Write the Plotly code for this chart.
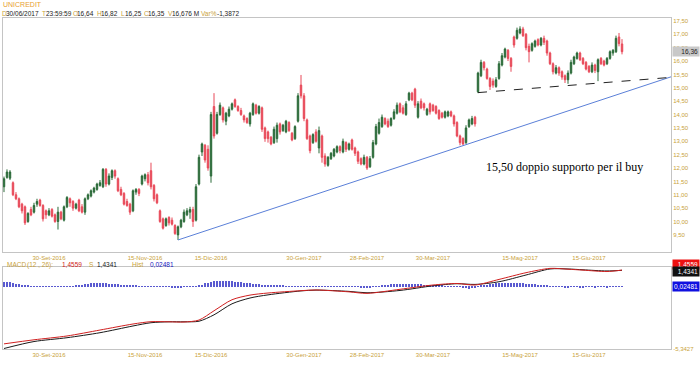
import plotly.graph_objects as go
import pandas as pd

# ---------------- data ----------------
HOLIDAYS = ['2016-12-26', '2017-04-14', '2017-04-17', '2017-05-01']
dates = [d.strftime('%Y-%m-%d') for d in pd.bdate_range('2016-09-09', '2017-06-30')
         if d.strftime('%Y-%m-%d') not in HOLIDAYS]

opens = [
    11.30, 11.65, 11.62, 11.45, 11.00, 10.85, 10.65, 10.55, 10.00, 10.45,
    10.35, 10.65, 10.80, 10.60, 10.40, 10.25, 10.45, 10.25, 10.00, 10.35,
    10.05, 10.55, 10.85, 10.75, 10.50, 10.80, 10.55, 10.35, 10.85, 10.95,
    11.10, 11.20, 11.35, 11.30, 11.95, 11.40, 11.65, 11.90, 11.60, 11.20,
    11.05, 10.75, 10.65, 10.40, 11.10, 11.20, 11.40, 11.60, 11.75, 11.90,
    11.35, 11.00, 10.40, 10.10, 9.85, 10.15, 10.05, 9.85, 9.50,
    9.80, 10.00, 10.25, 10.35, 10.45, 10.05, 11.40, 12.60, 12.85, 12.70,
    11.70, 14.30, 13.30, 14.00, 14.25, 13.75, 13.95, 14.20, 14.55, 14.30,
    14.15, 13.95, 13.85, 13.65, 14.00, 14.35, 14.05, 14.25, 13.50, 13.35,
    13.15, 12.95, 13.10, 13.65, 13.40, 13.35, 13.70, 13.30, 13.10, 13.75,
    15.10, 14.70, 13.80, 13.20, 12.95, 13.35, 12.75, 13.20, 12.45, 12.10,
    12.35, 12.45, 12.60, 12.80, 12.60, 12.95, 12.70, 13.05, 12.75, 12.60,
    12.35, 12.15, 12.40, 12.05, 12.40, 12.90, 13.30, 13.55, 13.85, 13.75,
    13.60, 13.85, 14.05, 14.40, 14.25, 14.00, 14.55, 14.80, 14.95, 13.90,
    14.50, 14.40, 14.00, 14.40, 14.35, 14.30, 14.15, 14.05, 13.90,
    13.95, 14.10, 13.95, 13.70, 13.20, 13.10, 12.95, 13.55, 13.65, 13.90,
    14.85, 15.45, 15.95, 15.70, 15.35, 15.25, 15.05, 15.35, 15.85, 16.15,
    16.40, 16.10, 16.90, 16.85, 17.05, 17.20, 17.00, 16.55, 16.40, 16.55,
    16.80, 16.60, 16.85, 16.75, 16.30, 15.90, 15.55, 15.75, 15.60, 15.45,
    15.30, 15.55, 15.90, 16.10, 16.30, 16.10, 15.95, 15.80, 15.60, 15.85,
    15.60, 16.10, 16.00, 15.90, 16.10, 16.30, 16.35, 16.90, 16.64,
]
highs = [
    11.68, 11.95, 11.92, 11.50, 11.10, 10.90, 10.70, 10.60, 10.35, 10.55,
    10.70, 10.85, 10.85, 10.65, 10.45, 10.50, 10.50, 10.30, 10.55, 10.40,
    10.60, 10.95, 10.90, 10.80, 10.70, 10.85, 10.65, 10.90, 11.05, 11.20,
    11.30, 11.45, 11.55, 12.00, 12.00, 11.80, 11.95, 11.95, 11.65, 11.30,
    11.10, 10.85, 10.70, 11.20, 11.25, 11.25, 11.75, 11.80, 11.85, 12.20,
    11.40, 11.05, 10.45, 10.15, 10.15, 10.20, 10.15, 9.90, 9.85,
    10.10, 10.45, 10.50, 10.55, 10.55, 11.40, 12.50, 12.95, 12.90, 12.85,
    14.10, 14.80, 14.10, 14.45, 14.30, 14.10, 14.30, 14.45, 14.60, 14.35,
    14.25, 14.00, 13.90, 14.10, 14.45, 14.40, 14.35, 14.30, 13.55, 13.40,
    13.20, 13.55, 13.70, 13.70, 13.65, 13.80, 13.75, 13.35, 13.60, 14.80,
    15.48, 14.80, 13.85, 13.25, 13.30, 13.45, 13.55, 13.25, 12.55, 12.45,
    12.60, 12.75, 12.85, 12.85, 13.10, 13.00, 12.95, 13.10, 12.80, 12.65,
    12.40, 12.50, 12.45, 12.45, 13.05, 13.65, 13.85, 14.00, 13.90, 13.85,
    13.90, 14.20, 14.45, 14.45, 14.35, 14.50, 14.85, 14.85, 15.00, 14.50,
    14.60, 14.45, 14.25, 14.45, 14.40, 14.35, 14.20, 14.10, 14.15,
    14.15, 14.15, 14.00, 13.75, 13.25, 13.15, 13.60, 13.85, 13.95, 13.95,
    15.60, 16.05, 16.00, 15.75, 15.40, 15.35, 15.40, 16.00, 16.30, 16.50,
    16.45, 16.15, 16.95, 17.25, 17.30, 17.28, 17.05, 16.65, 16.70, 16.80,
    16.85, 16.90, 16.95, 16.80, 16.35, 15.95, 15.85, 15.80, 15.65, 15.50,
    15.65, 16.05, 16.20, 16.35, 16.35, 16.15, 16.00, 15.85, 15.95, 15.90,
    16.10, 16.15, 16.05, 16.15, 16.40, 16.45, 16.95, 17.05, 16.82,
]
lows = [
    11.10, 11.60, 11.55, 10.95, 10.80, 10.50, 10.30, 9.87, 9.95, 10.20,
    10.30, 10.55, 10.55, 10.00, 10.10, 10.20, 10.15, 9.95, 9.70, 10.05,
    10.00, 10.50, 10.55, 10.40, 10.45, 10.35, 10.30, 10.25, 10.80, 10.90,
    11.05, 11.15, 11.30, 11.25, 11.30, 11.35, 11.55, 11.60, 11.10, 10.95,
    10.60, 10.55, 10.25, 10.35, 11.00, 10.95, 11.35, 11.50, 11.35, 11.20,
    10.75, 10.65, 9.95, 9.70, 9.80, 9.85, 9.85, 9.50, 9.31,
    9.75, 9.95, 10.20, 10.10, 9.80, 10.00, 11.35, 12.45, 12.20, 11.90,
    11.45, 13.10, 13.25, 13.95, 13.70, 13.60, 13.90, 14.15, 14.25, 14.10,
    13.95, 13.70, 13.65, 13.55, 13.95, 14.00, 14.00, 13.35, 12.98, 12.95,
    12.85, 12.90, 12.95, 13.25, 13.35, 13.30, 13.35, 13.00, 13.05, 13.70,
    14.60, 13.75, 13.05, 12.55, 12.90, 12.95, 12.55, 12.20, 12.05, 12.05,
    12.30, 12.40, 12.55, 12.55, 12.55, 12.60, 12.65, 12.65, 12.45, 12.15,
    12.10, 12.10, 11.93, 12.00, 12.35, 12.85, 13.25, 13.50, 13.60, 13.50,
    13.55, 13.80, 14.00, 14.05, 14.00, 13.95, 14.50, 14.50, 14.25, 13.85,
    14.20, 14.15, 13.95, 14.00, 14.10, 14.00, 13.80, 13.85, 13.85,
    13.90, 13.90, 13.55, 13.15, 12.85, 12.85, 12.90, 13.50, 13.60, 13.55,
    14.80, 15.40, 15.65, 15.30, 14.92, 15.00, 15.00, 15.30, 15.80, 16.10,
    16.00, 15.60, 16.50, 16.80, 17.00, 16.90, 16.40, 15.95, 16.35, 16.50,
    16.55, 16.55, 16.60, 16.20, 15.85, 15.50, 15.50, 15.45, 15.30, 15.18,
    15.15, 15.50, 15.85, 16.05, 16.00, 15.85, 15.65, 15.55, 15.55, 15.55,
    15.25, 15.85, 15.80, 15.85, 16.05, 16.20, 16.30, 16.55, 16.25,
]
closes = [
    11.60, 11.85, 11.85, 11.00, 10.85, 10.55, 10.40, 9.95, 10.30, 10.25,
    10.60, 10.75, 10.60, 10.10, 10.25, 10.40, 10.20, 10.00, 10.35, 10.10,
    10.55, 10.90, 10.70, 10.50, 10.65, 10.40, 10.35, 10.85, 11.00, 11.15,
    11.25, 11.40, 11.45, 11.95, 11.40, 11.70, 11.90, 11.70, 11.15, 11.00,
    10.65, 10.60, 10.35, 11.15, 11.20, 11.05, 11.70, 11.75, 11.45, 11.30,
    10.85, 10.70, 10.00, 9.75, 10.10, 9.95, 9.90, 9.55, 9.80,
    10.05, 10.35, 10.40, 10.45, 10.00, 11.30, 12.40, 12.90, 12.30, 12.00,
    14.00, 13.20, 14.00, 14.35, 13.80, 14.05, 14.20, 14.40, 14.30, 14.15,
    14.00, 13.80, 13.70, 14.05, 14.40, 14.05, 14.30, 13.45, 13.10, 13.10,
    12.90, 13.45, 13.60, 13.35, 13.60, 13.75, 13.40, 13.05, 13.55, 14.70,
    14.70, 13.85, 13.10, 12.65, 13.25, 13.00, 13.40, 12.40, 12.15, 12.40,
    12.55, 12.70, 12.80, 12.65, 13.00, 12.70, 12.90, 12.70, 12.55, 12.25,
    12.15, 12.40, 12.00, 12.35, 12.95, 13.55, 13.70, 13.90, 13.65, 13.55,
    13.85, 14.10, 14.35, 14.10, 14.05, 14.40, 14.80, 14.55, 14.35, 14.40,
    14.25, 14.25, 14.20, 14.10, 14.15, 14.05, 13.85, 13.90, 14.10,
    14.10, 13.95, 13.65, 13.20, 12.95, 12.90, 13.50, 13.80, 13.85, 13.65,
    15.55, 15.95, 15.75, 15.35, 15.05, 15.10, 15.30, 15.90, 16.20, 16.45,
    16.10, 15.80, 16.60, 17.15, 17.20, 16.95, 16.50, 16.35, 16.65, 16.75,
    16.60, 16.85, 16.70, 16.30, 15.90, 15.60, 15.75, 15.55, 15.40, 15.30,
    15.55, 15.95, 16.15, 16.30, 16.05, 15.90, 15.70, 15.60, 15.85, 15.65,
    16.05, 15.90, 15.85, 16.10, 16.35, 16.40, 16.85, 16.65, 16.35,
]

# MACD (12, 26) read at sampled sessions (index into dates)
macd_at = [0, 10, 21, 32, 43, 49, 55, 60, 65, 70, 76, 82, 88, 99, 104, 115, 121,
           132, 143, 151, 157, 165, 174, 182, 188, 193, 201, 206]
macd_line = [-4.90, -4.55, -4.22, -3.71, -3.19, -2.99, -3.00, -3.02, -2.85, -2.05,
             -1.10, -0.70, -0.52, -0.32, -0.26, -0.42, -0.55, -0.20, 0.17, 0.30,
             0.17, 0.65, 1.23, 1.60, 1.53, 1.45, 1.33, 1.4559]
signal_line = [-5.30, -4.70, -4.37, -3.94, -3.36, -3.08, -3.00, -3.00, -2.95, -2.40,
               -1.45, -0.95, -0.68, -0.34, -0.27, -0.38, -0.50, -0.30, 0.10, 0.28,
               0.22, 0.45, 1.03, 1.55, 1.55, 1.48, 1.38, 1.4341]
hist = [
    0.40, 0.42, 0.40, 0.35,
    0.28, 0.22, 0.18, 0.14, 0.10, 0.08, 0.06,
    0.05, 0.05, 0.05, 0.05, 0.05, 0.05, 0.05, 0.05, 0.05,
    0.05, 0.05, 0.06, 0.08, 0.10, 0.14, 0.18, 0.22, 0.26,
    0.30, 0.32, 0.33, 0.33, 0.32, 0.30, 0.28, 0.26, 0.24, 0.22,
    0.20, 0.18, 0.16, 0.14, 0.12, 0.10, 0.08, 0.07, 0.06, 0.05, 0.05, 0.04, 0.04, 0.04,
    0.03, 0.02, 0.02, -0.03, -0.04, -0.04, -0.03, 0.02, 0.03, 0.03, 0.04, 0.05,
    0.10, 0.20, 0.30, 0.38, 0.45, 0.50, 0.53, 0.55, 0.55, 0.54,
    0.52, 0.50, 0.47, 0.44, 0.41, 0.38, 0.35, 0.32, 0.29, 0.26, 0.23, 0.20, 0.17, 0.15,
    0.13, 0.12, 0.11, 0.10, 0.09, 0.08, 0.07, 0.06, 0.05, 0.05, 0.04, 0.04, 0.04, 0.03, 0.03, 0.03,
    0.03, 0.03, 0.03, 0.03, 0.03, 0.03, 0.03, 0.03, 0.03, 0.03, 0.03,
    0.03, 0.03, 0.03, -0.03, -0.03, -0.03, -0.03, 0.03, 0.05, 0.08, 0.12,
    0.16, 0.20, 0.22, 0.24, 0.25, 0.26, 0.26, 0.26, 0.25, 0.25,
    0.24, 0.23, 0.22, 0.21, 0.20, 0.18, 0.16, 0.14, 0.12, 0.10,
    0.08, 0.06, 0.05, 0.04, 0.03, 0.03,
    -0.05, -0.10, -0.15, -0.12, -0.08,
    0.05, 0.10, 0.15, 0.20, 0.24, 0.27, 0.30, 0.32, 0.33, 0.34, 0.34,
    0.34, 0.33, 0.32, 0.31, 0.30, 0.28, 0.26, 0.24, 0.22, 0.20,
    0.17, 0.14, 0.11, 0.08, 0.05, 0.03,
    0.03, 0.03, -0.03, -0.03, 0.03, 0.03, 0.03, -0.03, -0.03, 0.03, 0.03,
    0.03, -0.03, 0.03, 0.03, 0.03, -0.03, 0.03, 0.03, 0.03, 0.03, 0.02481,
]

# trendlines drawn on the chart: (start session, start price, end price at right edge)
blue_trend = ('2016-11-30', 9.31, 15.41)
dashed_trend = ('2017-04-24', 14.82, 15.39)

price_ticks = [9.5, 10.0, 10.5, 11.0, 11.5, 12.0, 12.5, 13.0, 13.5, 14.0, 14.5, 15.0,
               15.5, 16.0, 16.5, 17.0, 17.5]
price_tick_text = [f"{v:.2f}".replace('.', ',') for v in price_ticks]
date_ticks = ['2016-09-30', '2016-11-15', '2016-12-15', '2017-01-30', '2017-02-28',
              '2017-03-30', '2017-05-15', '2017-06-15']
date_tick_text = ['30-Set-2016', '15-Nov-2016', '15-Dic-2016', '30-Gen-2017', '28-Feb-2017',
                  '30-Mar-2017', '15-Mag-2017', '15-Giu-2017']

# ---------------- styling ----------------
W, H = 700, 365
ML, MR, MT, MB = 3, 29, 18, 16
PW, PH = W - ML - MR, H - MT - MB
GOLD = '#c9a23a'
TITLE = '#e8a030'
DARK = '#222222'
BORDER = '#c4c4c4'
GREEN = '#2a6a38'
RED = '#e84858'
FONT = 'Liberation Sans, Arial, sans-serif'
X_RANGE = [-0.33, 222.33]


def px(x):
    return (x - ML) / PW


def py(y):
    return (H - MB - y) / PH


fig = go.Figure()

fig.add_trace(go.Candlestick(
    x=dates, open=opens, high=highs, low=lows, close=closes,
    increasing=dict(line=dict(color=GREEN, width=1), fillcolor=GREEN),
    decreasing=dict(line=dict(color=RED, width=1), fillcolor=RED),
    whiskerwidth=0, xaxis='x', yaxis='y', showlegend=False, hoverinfo='skip'))

fig.add_trace(go.Bar(
    x=dates, y=hist, width=0.3, marker=dict(color='#5a5ad0', line=dict(width=0)),
    xaxis='x2', yaxis='y2', showlegend=False, hoverinfo='skip'))

macd_x = [dates[i] for i in macd_at]
fig.add_trace(go.Scatter(x=macd_x, y=signal_line, mode='lines',
                         line=dict(color='#1a1a1a', width=1, shape='spline', smoothing=0.8),
                         xaxis='x2', yaxis='y2', showlegend=False, hoverinfo='skip'))
fig.add_trace(go.Scatter(x=macd_x, y=macd_line, mode='lines',
                         line=dict(color='#d02020', width=1, shape='spline', smoothing=0.8),
                         xaxis='x2', yaxis='y2', showlegend=False, hoverinfo='skip'))

axis_common = dict(showline=True, mirror=True, linecolor=BORDER, linewidth=1,
                   showgrid=False, zeroline=False, ticks='', automargin=False)

fig.update_layout(
    template='none',
    width=W, height=H, margin=dict(l=ML, r=MR, t=MT, b=MB, pad=0),
    paper_bgcolor='white', plot_bgcolor='white',
    font=dict(family=FONT, size=6, color=GOLD),
    xaxis=dict(type='category', categoryarray=dates, categoryorder='array',
               range=X_RANGE, domain=[0, 1], anchor='y',
               tickvals=date_ticks, ticktext=date_tick_text,
               tickfont=dict(size=6, color=GOLD), rangeslider=dict(visible=False),
               **axis_common),
    yaxis=dict(domain=[py(252), 1], range=[8.86, 17.61], side='right', anchor='x',
               tickvals=price_ticks, ticktext=price_tick_text,
               tickfont=dict(size=6, color=GOLD), **axis_common),
    xaxis2=dict(type='category', categoryarray=dates, categoryorder='array',
                range=X_RANGE, domain=[0, 1], anchor='y2',
                tickvals=date_ticks, ticktext=date_tick_text,
                tickfont=dict(size=6, color=GOLD), **axis_common),
    yaxis2=dict(domain=[0, py(267)], range=[-5.3427, 1.72], side='right', anchor='x2',
                tickvals=[-5.3427], ticktext=['-5,3427'],
                tickfont=dict(size=6, color=GOLD), **axis_common),
    bargap=0,
)

fig.add_shape(type='line', xref='x', yref='y', x0=blue_trend[0], y0=blue_trend[1],
              x1=X_RANGE[1], y1=blue_trend[2], line=dict(color='#5b80d8', width=1))
fig.add_shape(type='line', xref='x', yref='y', x0=dashed_trend[0], y0=dashed_trend[1],
              x1=X_RANGE[1], y1=dashed_trend[2], line=dict(color='#222222', width=1, dash='dash'))

ann = []


def text(x, y, s, color=GOLD, size=6.5, anchor='left', family=FONT):
    ann.append(dict(x=px(x), y=py(y), xref='paper', yref='paper', text=s, showarrow=False,
                    xanchor=anchor, yanchor='middle', font=dict(family=family, size=size, color=color)))


text(1, 5, 'UNICREDIT', TITLE, 7)
header = [('D', 0, GOLD), ('30/06/2017', 4, DARK), ('T', 40, GOLD), ('23:59:59', 44, DARK),
          ('O', 71, GOLD), ('16,64', 75, DARK), ('H', 95, GOLD), ('16,82', 99, DARK),
          ('L', 119, GOLD), ('16,25', 123, DARK), ('C', 142, GOLD), ('16,35', 146, DARK),
          ('V', 166, GOLD), ('16,676 M', 170, DARK), ('Var%', 199, GOLD), ('-1,3872', 215, DARK)]
for s, x, c in header:
    text(x, 13, s, c, 6.5)

macd_head = [('MACD', 5, GOLD), ('(12 , 26):', 25, GOLD), ('1,4559', 60, '#d02020'),
             ('S', 87, GOLD), ('1,4341', 95, DARK), ('Hist', 130, GOLD), ('0,02481', 148, '#2020c0')]
for s, x, c in macd_head:
    text(x, 264.5, s, c, 6.5)

# serif note on the chart
ann.append(dict(x=186.7, y=12.04, xref='x', yref='y', text='15,50 doppio supporto per il buy',
                showarrow=False, xanchor='center', yanchor='middle',
                font=dict(family='Liberation Serif, Times New Roman, serif', size=12, color='black')))


# value boxes on the right
def box(yref, yval, s, bg, fg, yshift=0):
    ann.append(dict(x=1.0, y=yval, xref='paper', yref=yref, text=s, showarrow=False,
                    xanchor='left', yanchor='middle', xshift=1, yshift=yshift,
                    bgcolor=bg, font=dict(family=FONT, size=6.5, color=fg),
                    borderpad=1, width=24, align='right'))


box('y', 16.36, '16,36', '#c8c8c8', '#222222')
box('y2', 1.4559, '1,4559', '#ee1111', 'white', yshift=6)
box('y2', 1.4341, '1,4341', '#111111', 'white', yshift=-1)
box('y2', 0.02481, '0,02481', '#1010e0', 'white')

fig.update_layout(annotations=ann)
fig.write_html('out.html', config={'displayModeBar': False},
               post_script="document.body.style.margin='0';document.body.style.padding='0';"
                           "document.body.style.overflow='hidden';")
